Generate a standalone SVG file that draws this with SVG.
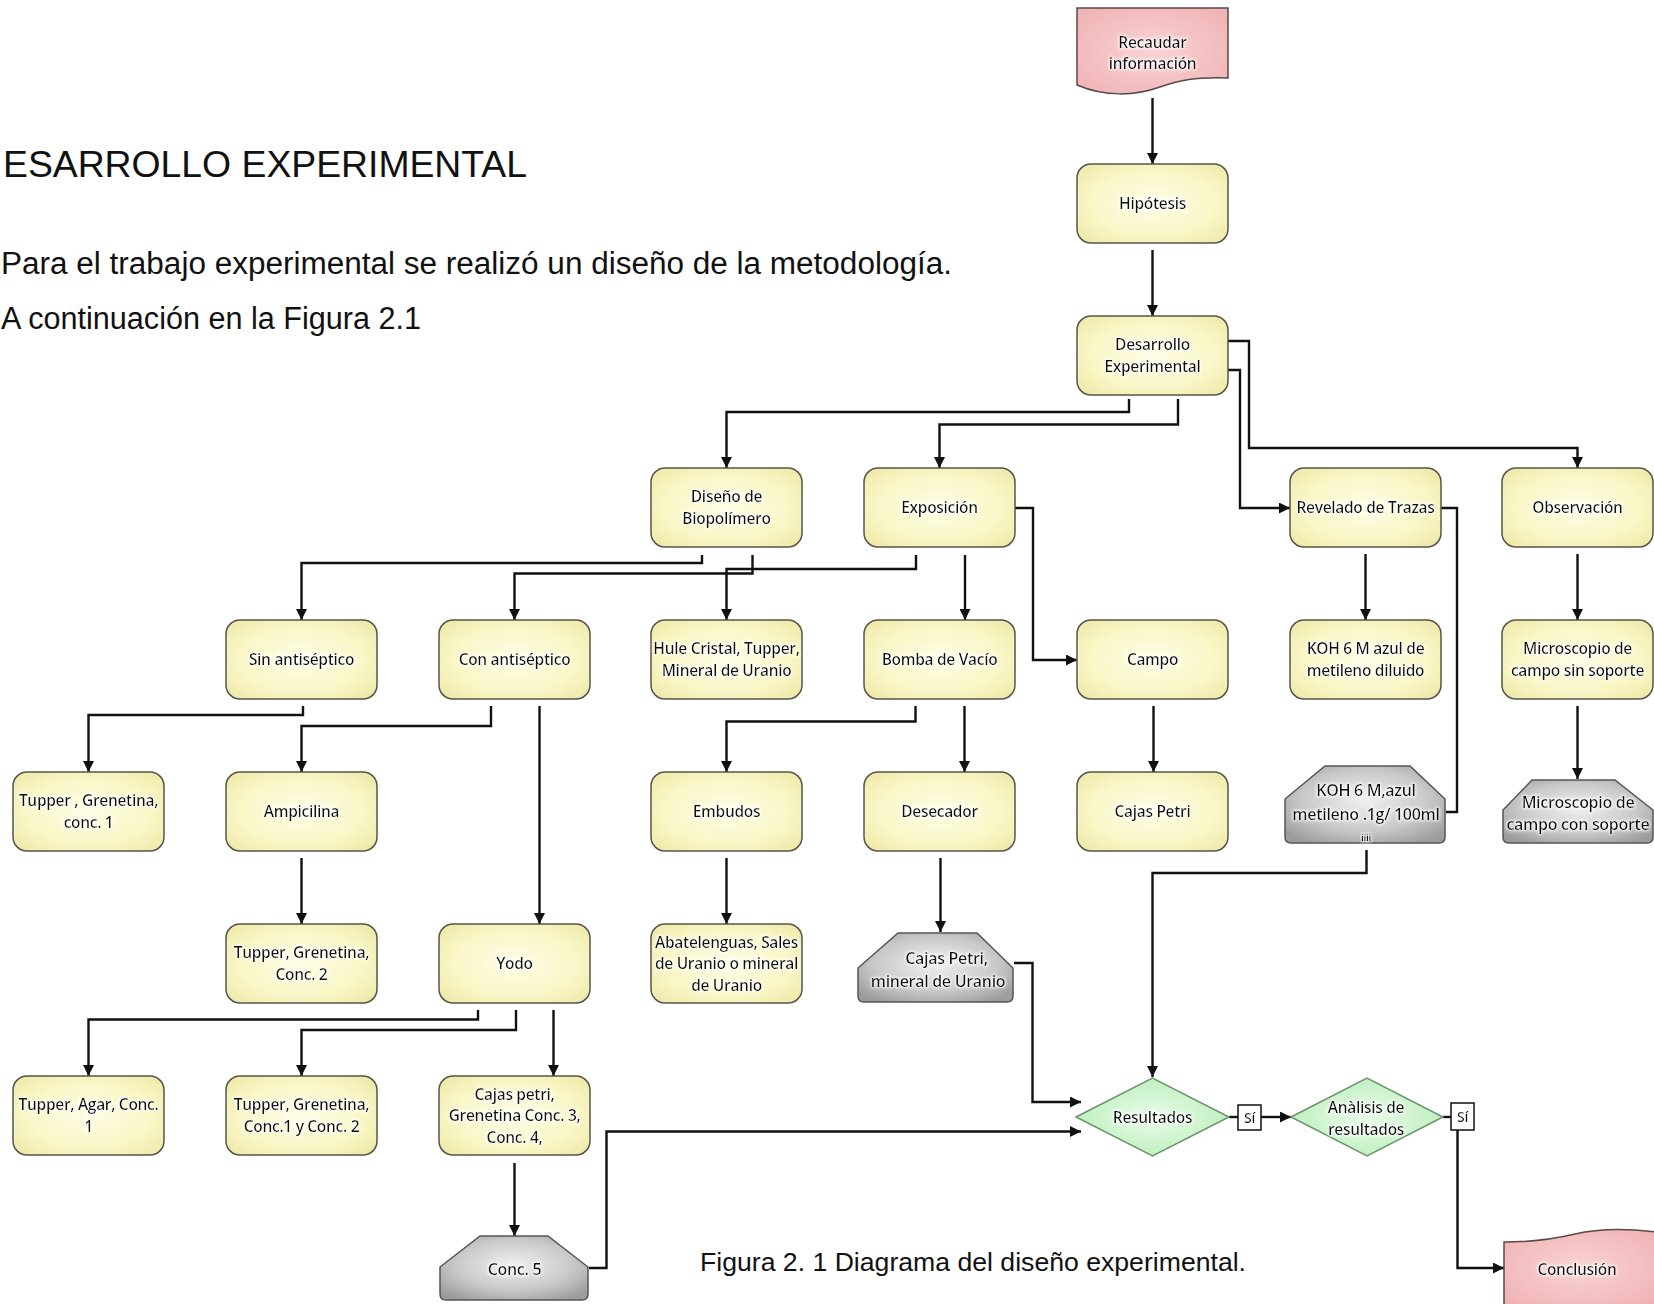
<svg xmlns="http://www.w3.org/2000/svg" width="1654" height="1304" viewBox="0 0 1654 1304">
<style>
.doc{font-family:"Liberation Sans",Arial,sans-serif;fill:#111}
.box{fill:url(#gY);stroke:#55554a;stroke-width:1.5}
.gray{fill:url(#gG);stroke:#555;stroke-width:1.5}
.pink{fill:url(#gP);stroke:#5a4848;stroke-width:1.5}
.dia{fill:url(#gD);stroke:#6a946a;stroke-width:1.5}
.t{font-family:"Open Sans","Noto Sans",sans-serif;font-size:15.5px;font-weight:600;letter-spacing:-0.3px;fill:#0a0a0a;text-anchor:middle;filter:url(#glow)}
.tg{font-size:16px}
.c{fill:none;stroke:#111;stroke-width:2.4;stroke-linejoin:miter}
.a{marker-end:url(#arr)}
.lbl{fill:#fff;stroke:#111;stroke-width:1.5}
</style>
<defs>
<radialGradient id="gY" cx="50%" cy="50%" r="65%">
<stop offset="0" stop-color="#FEFDE6"/><stop offset="0.65" stop-color="#F9F6C6"/><stop offset="1" stop-color="#EFEAAA"/>
</radialGradient>
<radialGradient id="gG" cx="50%" cy="45%" r="65%">
<stop offset="0" stop-color="#F0F0F0"/><stop offset="0.6" stop-color="#C9C9C9"/><stop offset="1" stop-color="#9C9C9C"/>
</radialGradient>
<radialGradient id="gP" cx="50%" cy="50%" r="65%">
<stop offset="0" stop-color="#FAD3D4"/><stop offset="1" stop-color="#F0B3B5"/>
</radialGradient>
<radialGradient id="gD" cx="50%" cy="50%" r="60%">
<stop offset="0" stop-color="#EAFCEA"/><stop offset="1" stop-color="#B8EDB8"/>
</radialGradient>
<filter id="glow" x="-10%" y="-40%" width="120%" height="180%">
<feMorphology in="SourceAlpha" operator="dilate" radius="1.2" result="d"/>
<feGaussianBlur in="d" stdDeviation="1.8" result="b"/>
<feFlood flood-color="#ffffff" flood-opacity="0.85"/>
<feComposite in2="b" operator="in" result="g"/>
<feMerge><feMergeNode in="g"/><feMergeNode in="SourceGraphic"/></feMerge>
</filter>
<marker id="arr" viewBox="0 0 10 10" refX="10" refY="5" markerWidth="11" markerHeight="11" markerUnits="userSpaceOnUse" orient="auto">
<path d="M0,0 L10,5 L0,10 Z" fill="#111"/>
</marker>
</defs>
<rect width="1654" height="1304" fill="#fff"/>

<g id="page-text">
<text class="doc" x="3" y="176.5" font-size="36" textLength="524" lengthAdjust="spacingAndGlyphs">ESARROLLO EXPERIMENTAL</text>
<text class="doc" x="1" y="274" font-size="31" textLength="951" lengthAdjust="spacingAndGlyphs">Para el trabajo experimental se realizó un diseño de la metodología.</text>
<text class="doc" x="1" y="329" font-size="31" textLength="420" lengthAdjust="spacingAndGlyphs">A continuación en la Figura 2.1</text>
<text class="doc" x="700" y="1271" font-size="26" textLength="546" lengthAdjust="spacingAndGlyphs">Figura 2. 1 Diagrama del diseño experimental.</text>
</g>

<g id="connectors">
<path class="c a" d="M1152.5,98 V164"/>
<path class="c a" d="M1152.5,250 V316"/>
<path class="c a" d="M1129,399 V412 H726.5 V468"/>
<path class="c a" d="M1178,399 V424.5 H939.5 V468"/>
<path class="c a" d="M1228,341 H1249 V448 H1577.5 V468"/>
<path class="c a" d="M1228,370 H1240 V508 H1290"/>
<path class="c a" d="M702,555 V563 H301.5 V620"/>
<path class="c a" d="M752.5,555 V573.5 H514.5 V620"/>
<path class="c a" d="M916,555 V569 H726.5 V620"/>
<path class="c a" d="M965,555 V620"/>
<path class="c a" d="M1015,508 H1033 V660 H1077"/>
<path class="c a" d="M1365.5,554 V620"/>
<path class="c a" d="M1577.5,554 V620"/>
<path class="c" d="M1441,508 H1457 V812 H1446"/>
<path class="c a" d="M303,706 V715 H88.5 V772"/>
<path class="c a" d="M491,706 V726 H301.5 V772"/>
<path class="c a" d="M539.5,706 V924"/>
<path class="c a" d="M915.5,706 V721.5 H726.5 V772"/>
<path class="c a" d="M964.5,706 V772"/>
<path class="c a" d="M1153.5,706 V772"/>
<path class="c a" d="M1577.5,706 V779"/>
<path class="c a" d="M301.5,858 V924"/>
<path class="c a" d="M726.5,858 V924"/>
<path class="c a" d="M940.5,858 V932"/>
<path class="c a" d="M1366.5,850 V873 H1152.5 V1077"/>
<path class="c a" d="M478,1010 V1019.5 H88.5 V1076"/>
<path class="c a" d="M516,1010 V1030 H301.5 V1076"/>
<path class="c a" d="M553.5,1010 V1076"/>
<path class="c a" d="M514.5,1163 V1236"/>
<path class="c a" d="M1014,963 H1032.5 V1102 H1081"/>
<path class="c a" d="M589,1268 H606.5 V1131.5 H1081"/>
<path class="c" d="M1229,1117 H1238"/>
<path class="c a" d="M1261,1117 H1291"/>
<path class="c" d="M1443,1117 H1451"/>
<path class="c a" d="M1457.5,1130 V1268 H1504"/>
<g id="label-si-1"><rect class="lbl" x="1238" y="1105" width="23" height="25"/><text class="t" style="font-size:14px" x="1249.5" y="1122.5">Sí</text></g>
<g id="label-si-2"><rect class="lbl" x="1451" y="1103" width="23" height="27"/><text class="t" style="font-size:14px" x="1462.5" y="1121.5">Sí</text></g>
</g>

<g id="n-recaudar"><path class="pink" d="M1077,8 H1228 V78 C1195,77 1180,80 1160,87 C1135,96 1105,97 1077,85 Z"/><text class="t" x="1152.5" y="48">Recaudar</text><text class="t" x="1152.5" y="69">información</text></g>
<g id="n-hipotesis"><rect class="box" x="1077" y="164" width="151" height="79" rx="14"/><text class="t" x="1152.5" y="209">Hipótesis</text></g>
<g id="n-desarrollo"><rect class="box" x="1077" y="316" width="151" height="79" rx="14"/><text class="t" x="1152.5" y="350.25">Desarrollo</text><text class="t" x="1152.5" y="371.75">Experimental</text></g>

<g id="n-diseno"><rect class="box" x="651" y="468" width="151" height="79" rx="14"/><text class="t" x="726.5" y="502.25">Diseño de</text><text class="t" x="726.5" y="523.75">Biopolímero</text></g>
<g id="n-exposicion"><rect class="box" x="864" y="468" width="151" height="79" rx="14"/><text class="t" x="939.5" y="513">Exposición</text></g>
<g id="n-revelado"><rect class="box" x="1290" y="468" width="151" height="79" rx="14"/><text class="t" x="1365.5" y="513">Revelado de Trazas</text></g>
<g id="n-observacion"><rect class="box" x="1502" y="468" width="151" height="79" rx="14"/><text class="t" x="1577.5" y="513">Observación</text></g>

<g id="n-sin"><rect class="box" x="226" y="620" width="151" height="79" rx="14"/><text class="t" x="301.5" y="665">Sin antiséptico</text></g>
<g id="n-con"><rect class="box" x="439" y="620" width="151" height="79" rx="14"/><text class="t" x="514.5" y="665">Con antiséptico</text></g>
<g id="n-hule"><rect class="box" x="651" y="620" width="151" height="79" rx="14"/><text class="t" x="726.5" y="654.25">Hule Cristal, Tupper,</text><text class="t" x="726.5" y="675.75">Mineral de Uranio</text></g>
<g id="n-bomba"><rect class="box" x="864" y="620" width="151" height="79" rx="14"/><text class="t" x="939.5" y="665">Bomba de Vacío</text></g>
<g id="n-campo"><rect class="box" x="1077" y="620" width="151" height="79" rx="14"/><text class="t" x="1152.5" y="665">Campo</text></g>
<g id="n-koh-diluido"><rect class="box" x="1290" y="620" width="151" height="79" rx="14"/><text class="t" x="1365.5" y="654.25">KOH 6 M azul de</text><text class="t" x="1365.5" y="675.75">metileno diluido</text></g>
<g id="n-micro-sin"><rect class="box" x="1502" y="620" width="151" height="79" rx="14"/><text class="t" x="1577.5" y="654.25">Microscopio de</text><text class="t" x="1577.5" y="675.75">campo sin soporte</text></g>

<g id="n-tupper-conc1"><rect class="box" x="13" y="772" width="151" height="79" rx="14"/><text class="t" x="88.5" y="806.25">Tupper , Grenetina,</text><text class="t" x="88.5" y="827.75">conc. 1</text></g>
<g id="n-ampicilina"><rect class="box" x="226" y="772" width="151" height="79" rx="14"/><text class="t" x="301.5" y="817">Ampicilina</text></g>
<g id="n-embudos"><rect class="box" x="651" y="772" width="151" height="79" rx="14"/><text class="t" x="726.5" y="817">Embudos</text></g>
<g id="n-desecador"><rect class="box" x="864" y="772" width="151" height="79" rx="14"/><text class="t" x="939.5" y="817">Desecador</text></g>
<g id="n-cajas-petri"><rect class="box" x="1077" y="772" width="151" height="79" rx="14"/><text class="t" x="1152.5" y="817">Cajas Petri</text></g>
<g id="n-koh-azul"><path class="gray" d="M1325,766 H1410 L1445,799 V837 Q1445,843 1439,843 H1291 Q1285,843 1285,837 V799 Z"/><text class="t tg" x="1366" y="795.5">KOH 6 M,azul</text><text class="t tg" x="1366" y="819.5">metileno .1g/ 100ml</text><text class="t" style="font-size:9px;font-weight:bold" x="1366" y="841">iiii</text></g>
<g id="n-micro-con"><path class="gray" d="M1532,780 H1615 L1653,810 V837 Q1653,843 1647,843 H1509 Q1503,843 1503,837 V810 Z"/><text class="t tg" x="1578" y="807.5">Microscopio de</text><text class="t tg" x="1578" y="830">campo con soporte</text></g>

<g id="n-tupper-conc2"><rect class="box" x="226" y="924" width="151" height="79" rx="14"/><text class="t" x="301.5" y="958.25">Tupper, Grenetina,</text><text class="t" x="301.5" y="979.75">Conc. 2</text></g>
<g id="n-yodo"><rect class="box" x="439" y="924" width="151" height="79" rx="14"/><text class="t" x="514.5" y="969">Yodo</text></g>
<g id="n-abatelenguas"><rect class="box" x="651" y="924" width="151" height="79" rx="14"/><text class="t" x="726.5" y="947.5">Abatelenguas, Sales</text><text class="t" x="726.5" y="969">de Uranio o mineral</text><text class="t" x="726.5" y="990.5">de Uranio</text></g>
<g id="n-cajas-mineral"><path class="gray" d="M898,933 H977 L1013,968 V996 Q1013,1002 1007,1002 H864 Q858,1002 858,996 V968 Z"/><text class="t tg" x="946.5" y="963.5">Cajas Petri,</text><text class="t tg" x="938" y="987">mineral de Uranio</text></g>

<g id="n-tupper-agar"><rect class="box" x="13" y="1076" width="151" height="79" rx="14"/><text class="t" x="88.5" y="1110.25">Tupper, Agar, Conc.</text><text class="t" x="88.5" y="1131.75">1</text></g>
<g id="n-tupper-conc12"><rect class="box" x="226" y="1076" width="151" height="79" rx="14"/><text class="t" x="301.5" y="1110.25">Tupper, Grenetina,</text><text class="t" x="301.5" y="1131.75">Conc.1 y Conc. 2</text></g>
<g id="n-cajas-grenetina"><rect class="box" x="439" y="1076" width="151" height="79" rx="14"/><text class="t" x="514.5" y="1099.5">Cajas petri,</text><text class="t" x="514.5" y="1121">Grenetina Conc. 3,</text><text class="t" x="514.5" y="1142.5">Conc. 4,</text></g>
<g id="n-resultados"><path class="dia" d="M1076,1117 L1152.5,1078 L1229,1117 L1152.5,1156 Z"/><text class="t" x="1152.5" y="1122.5">Resultados</text></g>
<g id="n-analisis"><path class="dia" d="M1291,1117 L1367,1078 L1443,1117 L1367,1156 Z"/><text class="t" x="1366" y="1112.5">Anàlisis de</text><text class="t" x="1366" y="1134.5">resultados</text></g>

<g id="n-conc5"><path class="gray" d="M480,1236 H548 L588,1267 V1294 Q588,1300 582,1300 H446 Q440,1300 440,1294 V1267 Z"/><text class="t tg" x="514.5" y="1274.5">Conc. 5</text></g>
<g id="n-conclusion"><path class="pink" d="M1504,1306 V1242 C1530,1242 1550,1240 1575,1234 C1600,1228 1625,1228 1656,1232 V1306 Z"/><text class="t" x="1577" y="1274.5">Conclusión</text></g>
</svg>
